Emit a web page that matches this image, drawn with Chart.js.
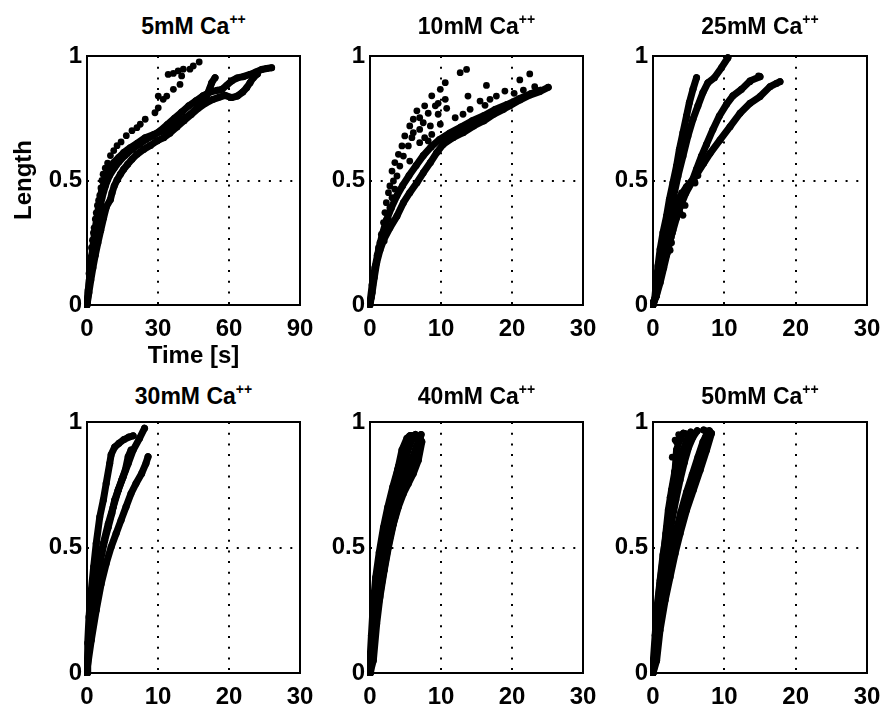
<!DOCTYPE html>
<html>
<head>
<meta charset="utf-8">
<title>Length vs time at different Ca++ concentrations</title>
<script src="https://cdn.jsdelivr.net/npm/chart.js@4.4.1/dist/chart.umd.min.js"></script>
<style>
  html, body { margin: 0; padding: 0; background: #fff; }
  body { position: relative; width: 886px; height: 709px; overflow: hidden;
         font-family: "Liberation Sans", Arial, sans-serif; color: #000; }
  canvas { position: absolute; }
  .ttl { position: absolute; width: 240px; text-align: center; font-weight: bold;
         font-size: 23px; line-height: 24px; white-space: nowrap; }
  .ttl sup { font-size: 14px; vertical-align: 10px; line-height: 0; }
  .lbl { position: absolute; font-weight: bold; font-size: 24px; line-height: 24px;
         white-space: nowrap; text-align: center; }
</style>
</head>
<body>
<script>
// concentrations (mM Ca++) of the six panels
const concentrations = [5, 10, 25, 30, 40, 50];
const xMaxes = [90, 30, 30, 30, 30, 30];
const xSteps = [30, 10, 10, 10, 10, 10];
const yTicks = [0, 0.5, 1];

// each trace: [time (s), length]

// 5 mM
const ca5_a = [[0,0.013],[0.4,0.06],[0.85,0.127],[1.4,0.19],[1.9,0.23],[2.3,0.26],[2.7,0.29],[3.0,0.31],
  [3.5,0.345],[3.9,0.37],[4.4,0.4],[4.9,0.42],[5.4,0.44],[5.9,0.47],[6.3,0.5],[6.8,0.525],[7.7,0.55],
  [8.7,0.57],[9.9,0.6],[11.3,0.62],[12.7,0.64],[14.4,0.655],[16.6,0.68],[19.0,0.7],[21.1,0.712],
  [22.5,0.726],[24.6,0.746],[28.7,0.772],[30.1,0.792],[30.1,0.839],[32.2,0.826],[33.7,0.839],
  [36.5,0.866],[39.3,0.886],[34.3,0.926],[36.5,0.93],[38.5,0.94],[40.0,0.92],[40.7,0.947],
  [43.5,0.947],[44.9,0.96],[47.4,0.976]];
const ca5_b = [[0,0],[0.5,0.05],[1.0,0.1],[1.6,0.16],[2.3,0.22],[3.1,0.28],[4.0,0.34],[5.0,0.4],
  [6.2,0.46],[7.7,0.505],[9.2,0.538],[11.3,0.572],[13.4,0.592],[15.5,0.612],[18.3,0.632],[21.1,0.649],
  [24.6,0.672],[28.2,0.685],[31.7,0.699],[35.2,0.716],[39.4,0.739],[43.7,0.766],[47.9,0.806],
  [50.5,0.84],[52.0,0.873],[52.7,0.893],[54.1,0.913]];
const ca5_c = [[0,0.01],[0.6,0.06],[1.2,0.12],[2.0,0.19],[2.9,0.25],[3.9,0.31],[5.0,0.37],[6.3,0.43],
  [7.8,0.48],[9.5,0.52],[11.5,0.55],[13.5,0.575],[16,0.6],[19,0.625],[22,0.645],[25,0.665],[28,0.68],
  [31,0.7],[34,0.725],[37,0.75],[40,0.775],[43,0.8],[46,0.82],[49,0.84],[52,0.855],[55,0.862],
  [57,0.866],[59,0.882],[61.1,0.9],[63.5,0.912],[66,0.917],[68.9,0.926],[71.4,0.936],[73.8,0.946],
  [75.9,0.95],[78,0.953]];
const ca5_d = [[0,0],[0.8,0.05],[1.6,0.1],[2.5,0.15],[3.5,0.2],[4.6,0.25],[5.8,0.3],[7,0.35],
  [8.2,0.395],[9.9,0.424],[10.6,0.451],[11.5,0.478],[12.7,0.502],[14.1,0.525],[15.5,0.545],
  [17.2,0.565],[19,0.585],[21.1,0.605],[23.9,0.625],[26.8,0.641],[29.6,0.659],[32.4,0.672],[35,0.69],
  [38,0.715],[41,0.74],[44,0.765],[47,0.79],[50,0.81],[53,0.825],[56,0.835],[58.3,0.842],[61.1,0.833],
  [63.5,0.839],[65.8,0.855],[67.5,0.873],[68.9,0.893],[70.3,0.913],[72,0.928]];

// 10 mM
const ca10_e1 = [[0,0.01],[0.3,0.08],[0.7,0.15],[1.2,0.22],[1.7,0.28],[2.3,0.34],[3.0,0.39],[3.8,0.44],
  [4.6,0.48],[5.5,0.52],[6.5,0.56],[7.5,0.6],[8.6,0.635],[9.8,0.665],[11.2,0.69],[12.8,0.715],
  [14.4,0.74],[16.0,0.76],[17.6,0.785],[19.3,0.805],[21.0,0.828],[22.6,0.848],[24.0,0.862]];
const ca10_e2 = [[0,0],[0.3,0.05],[0.6,0.11],[0.94,0.17],[1.4,0.22],[1.9,0.26],[2.8,0.31],[3.8,0.357],
  [4.7,0.411],[5.6,0.451],[6.6,0.491],[7.5,0.531],[8.5,0.572],[9.4,0.612],[10.3,0.645],[11.7,0.672],
  [13.1,0.692],[14.6,0.719],[16.0,0.739],[17.4,0.766],[18.8,0.786],[19.7,0.8],[21.1,0.823],
  [22.5,0.843],[23.9,0.857],[25.1,0.874]];
const ca10_f = [[0.2,0.03],[0.4,0.08],[0.6,0.12],[0.8,0.16],[1.0,0.2],[1.2,0.23],[1.4,0.25],[1.6,0.284],
  [2.0,0.257],[2.3,0.304],[1.9,0.331],[2.6,0.344],[2.1,0.371],[2.8,0.391],[2.3,0.411],[3.1,0.431],
  [2.6,0.451],[3.5,0.465],[2.8,0.478],[3.3,0.498],[3.8,0.518],[3.1,0.538],[4.2,0.558],[3.5,0.572],
  [5.6,0.578],[4.7,0.598],[4.0,0.605],[4.5,0.639],[5.4,0.639],[7.0,0.652],[8.2,0.659],[5.9,0.672],
  [7.7,0.672],[4.9,0.679],[8.7,0.685],[6.1,0.692],[7.0,0.705],[5.6,0.719],[8.5,0.719],[9.9,0.726],
  [7.5,0.732],[6.1,0.746],[7.0,0.752],[9.6,0.766],[8.2,0.77],[6.6,0.78],[10.8,0.79],[7.7,0.8],
  [9.2,0.8],[9.6,0.81],[10.6,0.826],[8.7,0.84],[9.9,0.866],[10.6,0.893],[12.7,0.933],[13.6,0.946]];
const ca10_g = [[12.0,0.752],[13.1,0.766],[14.1,0.786],[15.5,0.819],[16.2,0.802],[16.9,0.826],
  [17.8,0.839],[19.0,0.859],[20.3,0.85],[21.6,0.863],[23.2,0.877],[22.5,0.928],[21.1,0.904],
  [16.4,0.882],[13.8,0.839]];

// 25 mM
const ca25_h = [[0,0],[0.23,0.023],[0.47,0.09],[0.7,0.157],[1.0,0.224],[1.4,0.29],[1.9,0.357],
  [2.3,0.424],[2.8,0.491],[3.3,0.558],[3.7,0.625],[4.2,0.692],[4.7,0.759],[5.1,0.813],[5.6,0.866],
  [6.1,0.913]];
const ca25_i = [[0,0.01],[0.47,0.036],[0.84,0.116],[1.3,0.197],[1.8,0.277],[2.3,0.357],[2.9,0.438],
  [3.5,0.518],[4.2,0.598],[4.9,0.679],[5.6,0.746],[6.3,0.8],[7.0,0.853],[7.7,0.893],[8.6,0.913],
  [9.6,0.953],[10.5,0.993]];
const ca25_j = [[0,0],[0.5,0.05],[1.0,0.11],[1.5,0.17],[2.1,0.23],[2.7,0.29],[3.3,0.35],[3.9,0.4],
  [4.6,0.45],[5.4,0.491],[6.1,0.545],[6.8,0.598],[7.5,0.645],[8.4,0.705],[9.3,0.759],[10.3,0.806],
  [11.2,0.84],[12.4,0.866],[13.6,0.9],[15.0,0.917]];
const ca25_k = [[0,0],[0.5,0.04],[1.0,0.09],[1.5,0.15],[2.0,0.21],[2.5,0.27],[2.9,0.33],[3.3,0.395],
  [3.8,0.435],[4.7,0.475],[5.9,0.515],[7.1,0.569],[8.0,0.609],[9.4,0.663],[10.8,0.716],[12.2,0.77],
  [13.6,0.81],[15.0,0.837],[16.4,0.877],[17.3,0.89],[17.8,0.897]];
const ca25_x = [[3.8,0.37],[4.2,0.36],[4.5,0.40],[3.6,0.42],[4.0,0.45],[2.8,0.3],[2.4,0.22],[1.9,0.2],
  [2.6,0.25],[6.3,0.52],[6.6,0.55],[5.9,0.49],[14.8,0.92],[13.6,0.897]];

// 30 mM
const ca30_a = [[0,0],[0.1,0.05],[0.1,0.12],[0.28,0.223],[0.61,0.33],[0.94,0.423],[1.3,0.516],
  [1.8,0.622],[2.3,0.689],[2.7,0.755],[3.2,0.835],[3.4,0.87],[3.9,0.9],[4.5,0.915],[5.2,0.93],
  [5.9,0.94],[6.5,0.945]];
const ca30_b = [[0,0],[0.05,0.023],[0.38,0.156],[0.85,0.29],[1.5,0.423],[2.3,0.516],[3.0,0.595],
  [3.7,0.662],[4.4,0.729],[5.1,0.782],[5.8,0.835],[6.5,0.888],[7.4,0.935],[8.1,0.975]];
const ca30_c = [[0,0],[0.05,0.023],[0.6,0.13],[1.3,0.25],[2.0,0.356],[2.7,0.436],[3.4,0.502],
  [4.1,0.556],[4.8,0.609],[5.5,0.662],[6.2,0.715],[6.9,0.755],[7.7,0.795],[8.3,0.835],[8.6,0.862]];
const ca30_d = [[0,0.037],[0.28,0.116],[0.61,0.196],[0.94,0.276],[1.3,0.356],[1.7,0.423],[2.1,0.476],
  [2.5,0.529],[3.0,0.582],[3.5,0.636],[3.9,0.689],[4.4,0.729],[4.9,0.769],[5.4,0.809],[5.8,0.862],
  [6.2,0.888]];

// 40 mM
const ca40_a = [[0,0],[0.1,0.05],[0.23,0.09],[0.47,0.223],[0.85,0.356],[1.4,0.462],[2.1,0.569],
  [2.8,0.662],[3.5,0.755],[4.0,0.822],[4.5,0.888],[5.2,0.935],[5.6,0.945]];
const ca40_b = [[0,0.02],[0.3,0.1],[0.6,0.22],[1.0,0.33],[1.6,0.44],[2.2,0.53],[2.9,0.62],[3.6,0.7],
  [4.3,0.77],[4.9,0.84],[5.5,0.9],[6.0,0.935],[6.4,0.95]];
const ca40_c = [[0,0.01],[0.4,0.1],[0.8,0.2],[1.3,0.31],[1.8,0.41],[2.4,0.5],[3.1,0.59],[3.8,0.665],
  [4.5,0.73],[5.2,0.79],[5.9,0.85],[6.5,0.9],[6.9,0.93]];
const ca40_d = [[0,0],[0.47,0.05],[0.94,0.196],[1.4,0.303],[2.0,0.409],[2.6,0.502],[3.3,0.595],
  [4.0,0.662],[4.7,0.715],[5.4,0.755],[6.1,0.795],[6.8,0.848],[7.3,0.921],[7.0,0.94]];
const ca40_e = [[0,0.05],[0.2,0.15],[0.45,0.27],[0.8,0.38],[1.3,0.48],[1.9,0.58],[2.5,0.66],[3.2,0.74],
  [3.9,0.81],[4.6,0.87],[5.2,0.92],[5.9,0.945]];
const ca40_f = [[0,0],[0.5,0.12],[1.0,0.24],[1.6,0.35],[2.2,0.45],[2.8,0.54],[3.5,0.62],[4.2,0.69],
  [5.0,0.75],[5.7,0.81],[6.3,0.87],[6.8,0.91],[7.2,0.95]];

// 50 mM
const ca50_a = [[0,0],[0.28,0.09],[0.51,0.223],[0.98,0.356],[1.45,0.462],[1.8,0.556],[2.15,0.649],
  [2.6,0.729],[3.1,0.808],[3.3,0.888],[3.8,0.935],[4.25,0.955]];
const ca50_b = [[0,0.01],[0.35,0.1],[0.7,0.2],[1.1,0.3],[1.6,0.41],[2.1,0.51],[2.6,0.6],[3.2,0.69],
  [3.8,0.77],[4.4,0.84],[5.0,0.9],[5.6,0.94],[6.2,0.965]];
const ca50_c = [[0,0],[0.45,0.08],[0.85,0.18],[1.35,0.28],[1.9,0.38],[2.5,0.47],[3.2,0.56],[3.9,0.64],
  [4.7,0.72],[5.5,0.79],[6.3,0.86],[7.0,0.92],[7.6,0.955]];
const ca50_d = [[0,0],[0.51,0.05],[0.98,0.17],[1.7,0.29],[2.4,0.383],[3.1,0.476],[3.8,0.556],
  [4.7,0.649],[5.65,0.729],[6.6,0.808],[7.5,0.888],[8.2,0.955],[7.1,0.968]];
const ca50_e = [[0,0.03],[0.3,0.15],[0.6,0.27],[1.0,0.37],[1.4,0.47],[1.9,0.56],[2.4,0.65],[2.9,0.73],
  [3.5,0.81],[4.1,0.88],[4.8,0.93],[5.3,0.96]];
const ca50_f = [[0,0],[0.6,0.11],[1.1,0.22],[1.7,0.33],[2.3,0.43],[3.0,0.52],[3.7,0.6],[4.4,0.68],
  [5.2,0.75],[6.0,0.82],[6.8,0.89],[7.4,0.94],[7.9,0.965]];
const ca50_x = [[2.8,0.75],[3.0,0.8],[2.7,0.86],[3.3,0.92],[3.6,0.95],[4.0,0.93],[2.4,0.7],[2.2,0.62],
  [1.9,0.58],[3.1,0.928],[4.5,0.955]];

// [dense traces drawn joined, sparse dots]
const panelData = [
  [[ca5_b, ca5_c, ca5_d], [ca5_a]],
  [[ca10_e1, ca10_e2], [ca10_f, ca10_g]],
  [[ca25_h, ca25_i, ca25_j, ca25_k], [ca25_x]],
  [[ca30_a, ca30_b, ca30_c, ca30_d], []],
  [[ca40_a, ca40_e, ca40_b, ca40_c, ca40_f, ca40_d], []],
  [[ca50_a, ca50_e, ca50_b, ca50_c, ca50_f, ca50_d], [ca50_x]]
];

// plot-area boxes (page pixels)
const boxes = [
  {left: 87, top: 56, w: 213, h: 249},
  {left: 370, top: 56, w: 213, h: 249},
  {left: 653, top: 56, w: 214, h: 249},
  {left: 87, top: 422, w: 213, h: 251},
  {left: 370, top: 422, w: 213, h: 251},
  {left: 653, top: 422, w: 214, h: 251}
];
const YAXIS_W = 60, XAXIS_H = 45, PAD_T = 10, PAD_R = 20;

const frame = {
  id: 'frame',
  afterDraw(chart) {
    const a = chart.chartArea, ctx = chart.ctx;
    ctx.save();
    ctx.strokeStyle = '#000';
    ctx.lineWidth = 2;
    ctx.strokeRect(a.left, a.top, a.right - a.left, a.bottom - a.top);
    ctx.restore();
  }
};

const tickFont = {family: '"Liberation Sans", Arial, sans-serif', size: 24, weight: 'bold'};

function addText(cls, html, left, top, width, extra) {
  const d = document.createElement('div');
  d.className = cls;
  d.innerHTML = html;
  d.style.left = left + 'px';
  d.style.top = top + 'px';
  if (width) d.style.width = width + 'px';
  if (extra) Object.assign(d.style, extra);
  document.body.appendChild(d);
}

concentrations.forEach((c, i) => {
  const b = boxes[i];
  const cv = document.createElement('canvas');
  cv.width = YAXIS_W + b.w + PAD_R;
  cv.height = PAD_T + b.h + XAXIS_H;
  cv.style.left = (b.left - YAXIS_W) + 'px';
  cv.style.top = (b.top - PAD_T) + 'px';
  document.body.appendChild(cv);

  const [dense, sparse] = panelData[i];
  const datasets = [];
  dense.forEach(d => datasets.push({
    data: d, showLine: true, borderColor: '#000', backgroundColor: '#000',
    borderWidth: 7, borderJoinStyle: 'round', borderCapStyle: 'round',
    pointRadius: 3.5, pointBorderWidth: 0, clip: 3
  }));
  sparse.forEach(d => datasets.push({
    data: d, showLine: false, borderColor: '#000', backgroundColor: '#000',
    pointRadius: 3.4, pointBorderWidth: 0, clip: 3
  }));

  new Chart(cv, {
    type: 'scatter',
    data: {datasets},
    options: {
      responsive: false,
      animation: false,
      devicePixelRatio: 1,
      layout: {padding: {top: PAD_T, right: PAD_R, left: 0, bottom: 0}, autoPadding: false},
      plugins: {legend: {display: false}, tooltip: {enabled: false}, title: {display: false}},
      events: [],
      scales: {
        x: {
          type: 'linear', min: 0, max: xMaxes[i],
          ticks: {stepSize: xSteps[i], color: '#000', font: tickFont, padding: 10,
                  autoSkip: false, maxRotation: 0, callback: v => String(v)},
          grid: {color: '#000', lineWidth: 2, drawTicks: false},
          border: {display: false, dash: [2, 8.7]},
          afterFit(s) { s.height = XAXIS_H; s.paddingLeft = 0; s.paddingRight = 0; }
        },
        y: {
          type: 'linear', min: yTicks[0], max: yTicks[yTicks.length - 1],
          ticks: {stepSize: yTicks[1] - yTicks[0], color: '#000', font: tickFont, padding: 5,
                  autoSkip: false, callback: v => String(v)},
          grid: {color: '#000', lineWidth: 2, drawTicks: false},
          border: {display: false, dash: [2, 8.7]},
          afterFit(s) { s.width = YAXIS_W; s.paddingTop = 0; s.paddingBottom = 0; }
        }
      }
    },
    plugins: [frame]
  });

  // panel title
  const tTop = i < 3 ? b.top - 42 : b.top - 38;
  addText('ttl', c + 'mM Ca<sup>++</sup>', b.left + b.w / 2 - 120, tTop, 240);
});

// axis labels (first panel only)
addText('lbl', 'Time [s]', boxes[0].left + boxes[0].w / 2 - 60, 343, 120);
addText('lbl', 'Length', 23 - 50, 168, 100, {transform: 'rotate(-90deg)'});
</script>
</body>
</html>
